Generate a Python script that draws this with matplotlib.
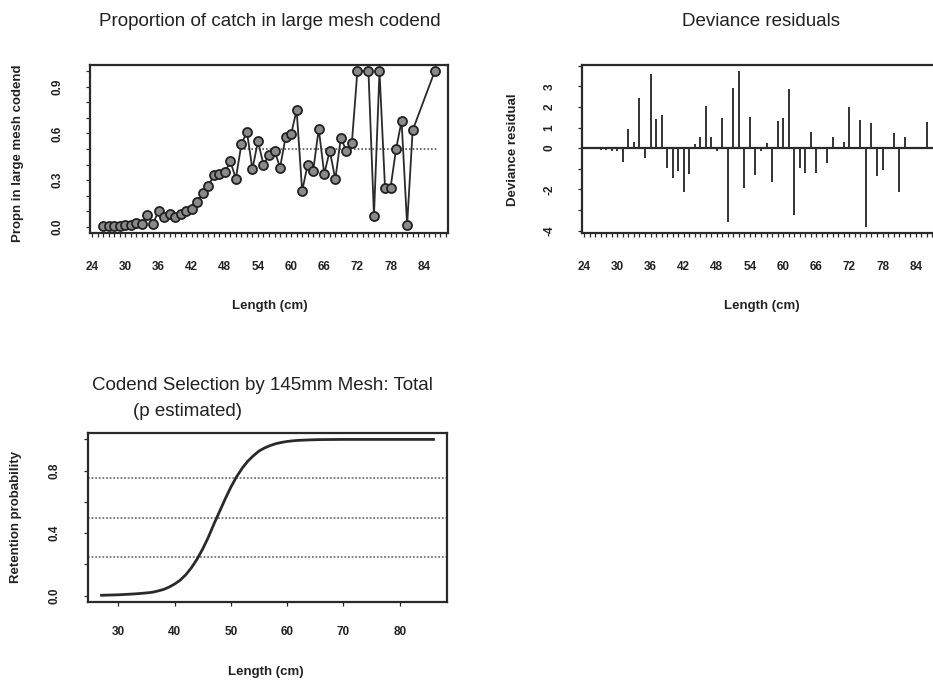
import matplotlib.pyplot as plt
from matplotlib.ticker import MultipleLocator, FixedLocator

plt.rcParams['font.family'] = ['Liberation Sans', 'DejaVu Sans']
plt.rcParams['axes.unicode_minus'] = False

# length classes (cm) with catch data
lengths = [26, 27, 28, 29, 30, 31, 32, 33, 34, 35, 36, 37, 38, 39, 40, 41, 42, 43,
           44, 45, 46, 47, 48, 49, 50, 51, 52, 53, 54, 55, 56, 57, 58, 59, 60, 61,
           62, 63, 64, 65, 66, 67, 68, 69, 70, 71, 72, 74, 75, 76, 77, 78, 79, 80,
           81, 82, 86]

# proportion of catch in the large mesh codend
propn = [0.005, 0.005, 0.005, 0.008, 0.01, 0.01, 0.025, 0.02, 0.074, 0.02, 0.10,
         0.063, 0.084, 0.063, 0.08, 0.10, 0.116, 0.16, 0.217, 0.26, 0.33, 0.34,
         0.35, 0.42, 0.31, 0.53, 0.61, 0.37, 0.55, 0.40, 0.46, 0.49, 0.38, 0.575,
         0.596, 0.75, 0.23, 0.40, 0.36, 0.63, 0.34, 0.49, 0.305, 0.57, 0.49, 0.54,
         1.0, 1.0, 0.07, 1.0, 0.25, 0.25, 0.50, 0.68, 0.01, 0.62, 1.0]

# deviance residuals
dev_resid = [-0.05, -0.1, -0.1, -0.12, -0.15, -0.67, 0.93, 0.31, 2.44, -0.46, 3.6,
             1.41, 1.6, -0.94, -1.43, -1.1, -2.13, -1.27, 0.2, 0.55, 2.06, 0.55,
             -0.13, 1.45, -3.58, 2.93, 3.74, -1.92, 1.5, -1.3, -0.13, 0.24, -1.66,
             1.33, 1.45, 2.88, -3.26, -0.94, -1.22, 0.81, -1.22, 0.02, -0.73, 0.52,
             0.02, 0.28, 1.99, 1.37, -3.82, 1.22, -1.35, -1.07, 0.02, 0.73, -2.13,
             0.55, 1.25]

# fitted proportion (visible part, dotted)
fit_len = [51.5, 86.5]
fit_propn = [0.5, 0.5]

# retention curve
ret_len = [27, 30, 33, 35, 36, 37, 38, 39, 40, 41, 42, 43, 44, 45, 46, 47, 48, 49,
           50, 51, 52, 53, 54, 55, 56, 57, 58, 59, 60, 61, 62, 64, 66, 70, 76, 86]
ret_prob = [0.003, 0.006, 0.012, 0.018, 0.022, 0.03, 0.04, 0.055, 0.075, 0.1,
            0.135, 0.18, 0.235, 0.3, 0.375, 0.46, 0.54, 0.62, 0.695, 0.76, 0.815,
            0.86, 0.895, 0.925, 0.945, 0.96, 0.972, 0.98, 0.986, 0.99, 0.993,
            0.996, 0.998, 0.999, 0.999, 0.999]
ref_levels = [0.25, 0.5, 0.75]

ink = '#2a2a2a'
W, H = 933, 685
fig = plt.figure(figsize=(W / 100, H / 100), dpi=100)


def box(l, t, r, b):
    return [l / W, 1 - b / H, (r - l) / W, (b - t) / H]


def style(ax, ypad=16, xpad=17):
    for s in ax.spines.values():
        s.set_linewidth(1.6)
        s.set_color(ink)
    ax.tick_params(which='both', direction='out', length=3, width=0.9, color=ink,
                   labelsize=8.5, labelcolor='#222222')
    ax.tick_params(axis='x', pad=xpad)
    ax.tick_params(axis='y', pad=ypad, labelrotation=90)
    for lbl in ax.get_xticklabels() + ax.get_yticklabels():
        lbl.set_fontweight('bold')
    for lbl in ax.get_yticklabels():
        lbl.set_verticalalignment('center')


# proportion panel
ax1 = fig.add_axes(box(90, 65, 448, 233))
ax1.plot(fit_len, fit_propn, ls=(0, (1, 1.2)), color='#555555', lw=1.2)
ax1.plot(lengths, propn, color=ink, lw=1.3)
ax1.plot(lengths, propn, 'o', ms=6.5, mfc='#8a8a8a', mec='#222222', mew=1.3)
ax1.set_xlim(23.6, 88.4)
ax1.set_ylim(-0.04, 1.04)
ax1.xaxis.set_major_locator(MultipleLocator(6))
ax1.xaxis.set_minor_locator(MultipleLocator(1))
ax1.yaxis.set_major_locator(FixedLocator([0.0, 0.3, 0.6, 0.9]))
ax1.yaxis.set_minor_locator(MultipleLocator(0.1))
ax1.set_yticklabels(['0.0', '0.3', '0.6', '0.9'])
style(ax1)

# deviance residual panel
ax2 = fig.add_axes(box(582, 65, 940, 233))
ax2.axhline(0, color=ink, lw=1.6)
ax2.vlines(lengths, 0, dev_resid, color='#333333', lw=1.4)
ax2.set_xlim(23.6, 88.4)
ax2.set_ylim(-4.12, 4.04)
ax2.xaxis.set_major_locator(MultipleLocator(6))
ax2.xaxis.set_minor_locator(MultipleLocator(1))
ax2.yaxis.set_major_locator(FixedLocator([-4, -2, 0, 1, 2, 3]))
ax2.yaxis.set_minor_locator(MultipleLocator(1))
style(ax2)

# retention curve panel
ax3 = fig.add_axes(box(88, 433, 447, 602))
for lev in ref_levels:
    ax3.axhline(lev, color='#777777', lw=1.3, ls=(0, (1, 1)))
ax3.plot(ret_len, ret_prob, color=ink, lw=2)
ax3.set_xlim(24.6, 88.4)
ax3.set_ylim(-0.04, 1.04)
ax3.xaxis.set_major_locator(MultipleLocator(10))
ax3.yaxis.set_major_locator(FixedLocator([0.0, 0.4, 0.8]))
ax3.yaxis.set_minor_locator(MultipleLocator(0.2))
ax3.set_yticklabels(['0.0', '0.4', '0.8'])
style(ax3, ypad=17, xpad=14)

# titles and labels
fig.text(270 / W, 1 - 22 / H, 'Proportion of catch in large mesh codend',
         ha='center', va='center', fontsize=13.5, color='#222222')
fig.text(761 / W, 1 - 22 / H, 'Deviance residuals',
         ha='center', va='center', fontsize=13.5, color='#222222')
fig.text(262 / W, 1 - 385 / H, 'Codend Selection by 145mm Mesh: Total',
         ha='center', va='center', fontsize=13.5, color='#222222')
fig.text(133 / W, 1 - 412 / H, '(p estimated)',
         ha='left', va='center', fontsize=13.5, color='#222222')

lab = dict(fontsize=9.5, color='#222222', ha='center', va='center',
           fontweight='bold')
fig.text(270 / W, 1 - 306 / H, 'Length (cm)', **lab)
fig.text(762 / W, 1 - 306 / H, 'Length (cm)', **lab)
fig.text(266 / W, 1 - 672 / H, 'Length (cm)', **lab)
fig.text(18 / W, 1 - 153 / H, 'Propn in large mesh codend', rotation=90, **lab)
fig.text(513 / W, 1 - 150 / H, 'Deviance residual', rotation=90, **lab)
fig.text(16 / W, 1 - 517 / H, 'Retention probability', rotation=90, **lab)

fig.savefig('out.png', dpi=100)
